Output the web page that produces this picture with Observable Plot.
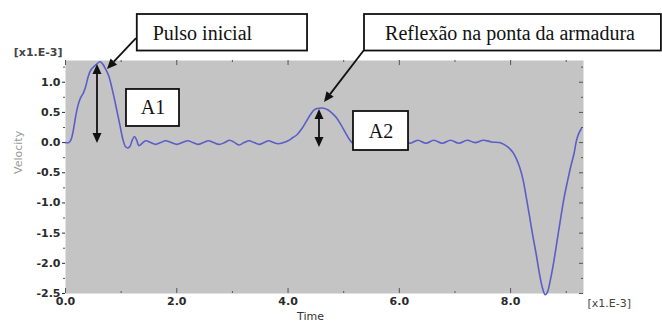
<!DOCTYPE html>
<html><head><meta charset="utf-8">
<script src="https://cdn.jsdelivr.net/npm/d3@7"></script>
<script src="https://cdn.jsdelivr.net/npm/@observablehq/plot@0.6"></script>
<style>html,body{margin:0;padding:0;background:#fff}</style>
</head><body><div id="chart"></div>
<script>
// time [x1.E-3 s] and velocity [x1.E-3]
const time = [0.00,0.06,0.10,0.14,0.18,0.22,0.27,0.32,0.36,0.41,0.46,0.51,0.56,0.62,0.67,0.72,0.78,0.83,0.88,0.93,0.98,1.03,1.08,1.12,1.16,1.20,1.24,1.28,
  1.32,1.44,1.53,1.62,1.71,1.80,1.90,2.00,2.10,2.20,2.29,2.38,2.48,2.57,2.66,2.76,2.86,2.95,3.04,3.12,3.21,3.30,3.39,3.48,3.57,3.65,3.74,3.82,3.92,
  4.00,4.08,4.16,4.24,4.32,4.40,4.48,4.56,4.64,4.72,4.80,4.88,4.96,5.04,5.12,5.20,5.30,5.40,5.60,5.80,6.00,
  6.10,6.20,6.33,6.48,6.62,6.77,6.92,7.07,7.22,7.36,7.51,7.66,7.80,7.88,7.96,8.04,8.10,8.16,8.22,8.28,8.34,8.40,8.46,8.52,8.57,8.62,8.66,8.72,8.78,8.84,8.90,8.96,9.02,9.08,9.14,9.18,9.22,9.27];
const velocity = [0.00,0.00,0.05,0.20,0.42,0.60,0.74,0.82,0.92,1.10,1.21,1.26,1.30,1.34,1.30,1.22,1.10,0.92,0.72,0.50,0.28,0.06,-0.07,-0.09,-0.06,0.04,0.10,0.04,
  -0.05,0.03,0.00,-0.03,0.00,0.03,0.00,-0.03,0.00,0.03,0.00,-0.03,0.00,0.03,0.00,-0.03,0.00,0.04,0.00,-0.04,0.00,0.03,0.00,-0.03,0.00,0.03,0.00,-0.02,0.00,
  0.03,0.08,0.13,0.22,0.34,0.46,0.55,0.57,0.57,0.54,0.48,0.40,0.28,0.15,0.03,-0.04,-0.02,0.02,-0.01,0.02,0.00,
  0.01,-0.01,0.04,-0.01,0.04,-0.01,0.04,-0.01,0.04,0.00,0.04,0.01,0.00,-0.03,-0.08,-0.16,-0.26,-0.40,-0.60,-0.90,-1.22,-1.55,-1.85,-2.18,-2.40,-2.52,-2.48,-2.25,-1.95,-1.60,-1.25,-0.92,-0.65,-0.40,-0.18,0.02,0.14,0.23];

const xTicks = [0, 2, 4, 6, 8];
const xMinor = [1, 3, 5, 7, 9];
const yTicks = [-2.5, -2.0, -1.5, -1.0, -0.5, 0.0, 0.5, 1.0];
const yMinor = [-2.25, -1.75, -1.25, -0.75, -0.25, 0.25, 0.75, 1.25];

// annotation boxes (data coordinates)
const boxLabels = ["Pulso inicial", "Reflexão na ponta da armadura", "A1", "A2"];
const boxX1 = [1.29, 5.374, 1.096, 5.176];
const boxX2 = [4.35, 10.71, 2.049, 6.165];
const boxY1 = [2.122, 2.122, 0.880, 0.515];
const boxY2 = [1.517, 1.517, 0.267, -0.131];
const boxTX = [2.46, 7.99, 1.573, 5.67];
const boxTY = [1.81, 1.81, 0.575, 0.19];

// arrows (data coordinates): from (t1,v1) to (t2,v2), double-headed flag
const arrowT1 = [1.276, 0.575, 5.374, 4.565];
const arrowV1 = [1.724, -0.015, 1.526, -0.081];
const arrowT2 = [0.755, 0.575, 4.655, 4.565];
const arrowV2 = [1.211, 1.294, 0.664, 0.548];
const arrowDouble = [false, true, false, true];

const data = time.map((t, i) => ({t, v: velocity[i]}));
const boxes = boxLabels.map((label, i) => ({label, x1: boxX1[i], x2: boxX2[i], y1: boxY1[i], y2: boxY2[i], tx: boxTX[i], ty: boxTY[i]}));

const tickColor = "#555";
const plot = Plot.plot({
  width: 662, height: 322,
  marginLeft: 65, marginRight: 79, marginTop: 60, marginBottom: 29,
  x: {domain: [0, 9.31]},
  y: {domain: [-2.5, 1.36]},
  style: {fontFamily: "DejaVu Sans", background: "#fff", overflow: "visible"},
  marks: [
    Plot.frame({fill: "#c4c4c4", stroke: null}),
    Plot.line(data, {x: "t", y: "v", stroke: "#5a5ec6", strokeWidth: 1.6, curve: "catmull-rom"}),
    // left axis
    Plot.axisY(yTicks, {tickSize: 3, tickPadding: 2, tickFormat: d => d.toFixed(1), fontWeight: "bold", fontSize: 11, color: "#2a2a2a", label: null}),
    Plot.axisY(yMinor, {tickSize: 2, tickFormat: () => "", color: tickColor, label: null}),
    // bottom axis labels
    Plot.axisX(xTicks, {tickSize: 0, tickPadding: 4, tickFormat: d => d.toFixed(1), fontWeight: "bold", fontSize: 11, color: "#2a2a2a", label: null}),
    // inward ticks
    Plot.tickX(xTicks, {insetTop: 228, stroke: tickColor}),
    Plot.tickX(xMinor, {insetTop: 231, stroke: tickColor}),
    Plot.tickX(xTicks, {insetBottom: 228, stroke: tickColor}),
    Plot.tickX(xMinor, {insetBottom: 231, stroke: tickColor}),
    Plot.tickY(yTicks, {insetLeft: 514, stroke: tickColor}),
    Plot.tickY(yMinor, {insetLeft: 516, stroke: tickColor}),
    // axis texts
    Plot.text(["[x1.E-3]"], {frameAnchor: "top-left", dx: -3, dy: -8, textAnchor: "end", lineAnchor: "middle", fontSize: 11, fontWeight: "bold", fill: "#444"}),
    Plot.text(["[x1.E-3]"], {frameAnchor: "bottom-right", dx: 4, dy: 10, textAnchor: "start", lineAnchor: "middle", fontSize: 11, fill: "#444"}),
    Plot.text(["Time"], {frameAnchor: "bottom", dx: -14, dy: 26, lineAnchor: "bottom", fontSize: 11, fill: "#333"}),
    Plot.text(["Velocity"], {frameAnchor: "left", dx: -47, dy: -3, rotate: -90, fontSize: 11, fill: "#999"}),
    // annotation boxes
    Plot.rect(boxes, {x1: "x1", x2: "x2", y1: "y1", y2: "y2", fill: "white", stroke: "#111", strokeWidth: 1.8}),
    Plot.text(boxes, {x: "tx", y: "ty", text: "label", fontFamily: "Liberation Serif", fontSize: 20, fill: "#111"})
  ]
});

// arrows with filled heads, positioned through the plot's scales
const X = plot.scale("x"), Y = plot.scale("y");
const g = d3.select(plot).append("g").attr("fill", "#111").attr("stroke", "#111");
function head(xa, ya, xb, yb) {
  // triangle with tip at (xb,yb), pointing from a to b
  const L = 10, W = 4.5;
  const dx = xb - xa, dy = yb - ya, len = Math.hypot(dx, dy);
  const ux = dx / len, uy = dy / len;
  const bx = xb - ux * L, by = yb - uy * L;
  g.append("path").attr("stroke", "none")
    .attr("d", `M${xb},${yb}L${bx - uy * W},${by + ux * W}L${bx + uy * W},${by - ux * W}Z`);
  return [bx, by];
}
arrowT1.forEach((t1, i) => {
  let x1 = X.apply(t1), y1 = Y.apply(arrowV1[i]);
  const x2 = X.apply(arrowT2[i]), y2 = Y.apply(arrowV2[i]);
  const [ex, ey] = head(x1, y1, x2, y2);
  if (arrowDouble[i]) { [x1, y1] = head(x2, y2, x1, y1); }
  g.append("line").attr("x1", x1).attr("y1", y1).attr("x2", ex).attr("y2", ey).attr("stroke-width", 1.8);
});

document.getElementById("chart").appendChild(plot);
</script>
</body></html>
